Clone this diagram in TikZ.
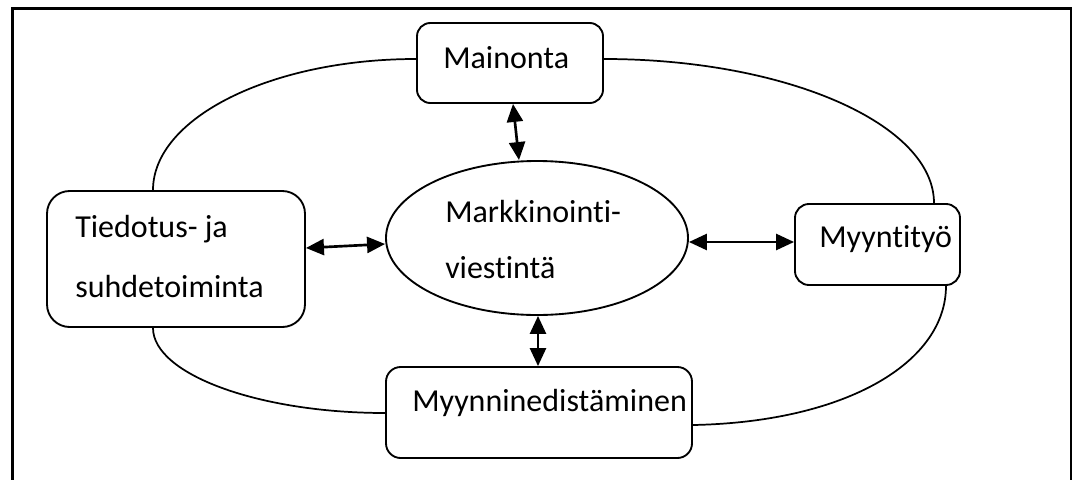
\documentclass[tikz,border=0pt]{standalone}
\usepackage{fontspec}
\setmainfont{Carlito}[Ligatures={NoCommon,NoContextual}]
\usetikzlibrary{arrows.meta,shapes.geometric,calc}
\begin{document}
\begin{tikzpicture}[x=0.75pt,y=-0.75pt,
  every node/.style={inner sep=0pt},
  boxshape/.style={draw,line width=1.4pt,rounded corners=#1},
  oval/.style={draw,ellipse,line width=1.4pt},
  lbl/.style={anchor=base west,font=\fontsize{24}{28}\selectfont},
  biarrow/.style={line width=2pt,{Triangle[length=13.5pt,width=12pt]}-{Triangle[length=13.5pt,width=12pt]}},
  ring/.style={line width=1.3pt},
  frameline/.style={line width=1.6pt}]
\useasboundingbox (0,0) rectangle (1072,479);

% page frame, open at the bottom
\draw[frameline] (12.5,482) -- (12.5,8.5) -- (1071.5,8.5) -- (1071.5,482);

% boxes
\node[boxshape=10pt,minimum width=139.5pt,minimum height=60pt] (main) at (510,63) {};
\node[boxshape=17pt,minimum width=193.5pt,minimum height=102pt] (tied) at (176,259) {};
\node[boxshape=10.5pt,minimum width=123.75pt,minimum height=60.75pt] (myy) at (877.5,244.5) {};
\node[boxshape=11pt,minimum width=229.5pt,minimum height=68.25pt] (med) at (539,412.5) {};
\node[oval,minimum width=226.5pt,minimum height=115.5pt] (mk) at (537,238) {};

% labels
\node[lbl] (tmain) at (443,68) {Mainonta};
\node[lbl] (ttied1) at (75,237) {Tiedotus- ja};
\node[lbl] (ttied2) at (75,297) {suhdetoiminta};
\node[lbl] (tmyy) at (819,247) {Myyntityö};
\node[lbl] (tmed) at (412,411) {Myynninedistäminen};
\node[lbl] (tmk1) at (445,222) {Markkinointi-};
\node[lbl] (tmk2) at (445,278) {viestintä};

% outer ring joining the four boxes
\draw[ring] (153,0 |- tied.north) .. controls (153,118) and (271,59) .. (main.west |- 0,59);
\draw[ring] (main.east |- 0,59) .. controls (786,59) and (934,124) .. (934,0 |- myy.north);
\draw[ring] (946,0 |- myy.south) .. controls (946,362) and (847,422) .. (med.east |- 0,425);
\draw[ring] (153,0 |- tied.south) .. controls (153,374) and (258,413) .. (med.west |- 0,413);

% two-way links to the centre
\draw[biarrow] (513,0 |- main.south) -- (519,0 |- mk.north);
\draw[biarrow] (tied.east |- 0,248) -- (mk.west |- 0,244);
\draw[biarrow] (mk.east |- 0,242) -- (myy.west |- 0,242);
\draw[biarrow] (538,0 |- mk.south) -- (538,0 |- med.north);
\end{tikzpicture}
\end{document}
